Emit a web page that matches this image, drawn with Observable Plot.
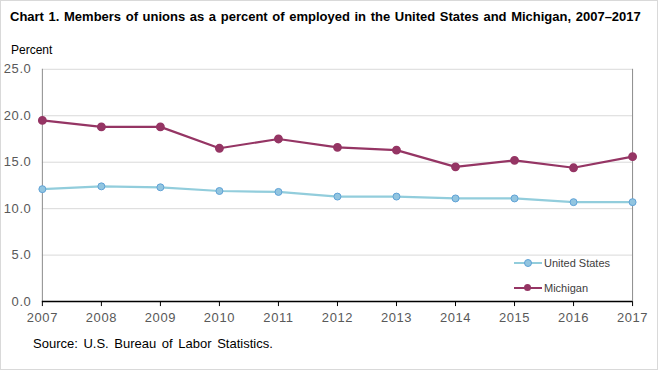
<!DOCTYPE html>
<html>
<head>
<meta charset="utf-8">
<script src="https://cdn.jsdelivr.net/npm/d3@7"></script>
<script src="https://cdn.jsdelivr.net/npm/@observablehq/plot@0.6"></script>
<style>
  html, body { margin: 0; padding: 0; background: #fff; }
  #wrap { position: relative; width: 658px; height: 370px; box-sizing: border-box; border: 1px solid #d9d9d9; font-family: Arial, "Liberation Sans", sans-serif; overflow: hidden; }
  #wrap svg { position: absolute; left: -1px; top: -1px; }
  .title { position: absolute; left: 9px; top: 8px; font-size: 13px; font-weight: bold; color: #000; white-space: nowrap; word-spacing: 1px; }
  .ylab { position: absolute; left: 10px; top: 42px; font-size: 12px; color: #000; }
  .source { position: absolute; left: 32px; top: 335px; font-size: 13px; color: #000; word-spacing: 2px; }
  .legend { position: absolute; left: 513px; font-size: 11px; color: #404040; display: flex; align-items: center; }
  .legend .sw { position: relative; width: 28px; height: 9px; margin-right: 2px; }
  .legend .sw .ln { position: absolute; left: 0; right: 0; top: 3.5px; height: 2px; }
  .legend .sw .dot { position: absolute; left: 10px; top: 0; width: 7px; height: 7px; border-radius: 50%; }
  #wrap svg text { letter-spacing: 0.6px; }
</style>
</head>
<body>
<div id="wrap">
  <div class="title">Chart 1. Members of unions as a percent of employed in the United States and Michigan, 2007–2017</div>
  <div class="ylab">Percent</div>
  <div class="source">Source: U.S. Bureau of Labor Statistics.</div>
  <div class="legend" style="top:256px"><div class="sw"><div class="ln" style="background:#92cddc"></div><div class="dot" style="background:#92c5e0;border:1px solid #5fa2d6;top:0px;left:10px;width:6px;height:6px"></div></div>United States</div>
  <div class="legend" style="top:281px"><div class="sw"><div class="ln" style="background:#953564"></div><div class="dot" style="background:#953564;top:0.5px;"></div></div>Michigan</div>
</div>
<script>
const years = [2007, 2008, 2009, 2010, 2011, 2012, 2013, 2014, 2015, 2016, 2017];
const unitedStates = [12.1, 12.4, 12.3, 11.9, 11.8, 11.3, 11.3, 11.1, 11.1, 10.7, 10.7];
const michigan = [19.5, 18.8, 18.8, 16.5, 17.5, 16.6, 16.3, 14.5, 15.2, 14.4, 15.6];
const yTicks = [0, 5, 10, 15, 20, 25];

const us = years.map((y, i) => ({year: y, value: unitedStates[i]}));
const mi = years.map((y, i) => ({year: y, value: michigan[i]}));

const chart = Plot.plot({
  width: 658,
  height: 370,
  marginTop: 69,
  marginBottom: 68,
  marginLeft: 42,
  marginRight: 24,
  style: {fontFamily: "Arial, 'Liberation Sans', sans-serif", fontSize: "13px", background: "transparent", color: "#595959"},
  x: {domain: [2007, 2017], ticks: years, tickFormat: d => String(d), label: null},
  y: {domain: [0, 25], ticks: yTicks, tickFormat: d3.format(".1f"), label: null},
  marks: [
    Plot.gridY(yTicks, {stroke: "#d9d9d9", strokeOpacity: 1}),
    Plot.ruleX([2007], {stroke: "#8c8c8c"}),
    Plot.ruleX([2017], {stroke: "#8c8c8c"}),
    Plot.axisY({ticks: yTicks, tickFormat: d3.format(".1f"), tickSize: 0, tickPadding: 11, fill: "#595959"}),
    Plot.axisX({ticks: years, tickFormat: d => String(d), tickSize: 5, tickPadding: 6, stroke: "#000", fill: "#595959"}),
    Plot.ruleY([0], {stroke: "#000", strokeWidth: 1.5}),
    Plot.line(us, {x: "year", y: "value", stroke: "#92cddc", strokeWidth: 2.2}),
    Plot.dot(us, {x: "year", y: "value", r: 3.5, fill: "#92c5e0", stroke: "#5fa2d6", strokeWidth: 1}),
    Plot.line(mi, {x: "year", y: "value", stroke: "#953564", strokeWidth: 2.2}),
    Plot.dot(mi, {x: "year", y: "value", r: 3.7, fill: "#953564", stroke: "#953564"})
  ]
});
document.getElementById("wrap").prepend(chart);
</script>
</body>
</html>
